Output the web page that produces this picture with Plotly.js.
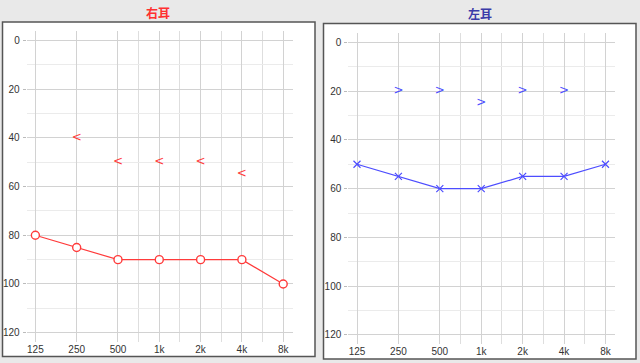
<!DOCTYPE html>
<html><head><meta charset="utf-8">
<script src="https://cdn.plot.ly/plotly-3.0.1.min.js"></script>
<style>html,body{margin:0;padding:0;background:#e9e9e9;}#c{width:640px;height:363px;}</style>
</head><body><div id="c"></div>
<script>
const freqs = ['125','250','500','1k','2k','4k','8k'];
const halfOctaves = [2.5, 3.5, 4.5, 5.5];
const rightAC = [80, 85, 90, 90, 90, 90, 100];
const rightBC = [null, 40, 50, 50, 50, 55, null];
const leftAC = [50, 55, 60, 60, 55, 55, 50];
const leftBC = [null, 20, 20, 25, 20, 20, null];
const yTicks = [0, 20, 40, 60, 80, 100, 120];

const xi = freqs.map((f, i) => i);
const red = '#ff3b3b', blue = '#4d4dff';

function bc(vals, sym) {
  const x = [], y = [], t = [];
  vals.forEach((v, i) => { if (v !== null) { x.push(i); y.push(v); t.push(sym); } });
  return {x, y, t};
}
const rb = bc(rightBC, '<'), lb = bc(leftBC, '>');

const traces = [
  {x: xi, y: rightAC, mode: 'lines+markers', xaxis: 'x', yaxis: 'y',
   line: {color: red, width: 1.2},
   marker: {symbol: 'circle', size: 8, color: '#ffffff', line: {width: 1.4, color: red}}},
  {x: rb.x, y: rb.y, text: rb.t, mode: 'text', xaxis: 'x', yaxis: 'y',
   textfont: {color: red, size: 12, family: 'DejaVu Sans'}},
  {x: xi, y: leftAC, mode: 'lines+markers', xaxis: 'x2', yaxis: 'y2',
   line: {color: blue, width: 1.2},
   marker: {symbol: 'x-thin-open', size: 7, color: blue, line: {width: 1.2, color: blue}}},
  {x: lb.x, y: lb.y, text: lb.t, mode: 'text', xaxis: 'x2', yaxis: 'y2',
   textfont: {color: blue, size: 12, family: 'DejaVu Sans'}}
];

function xax(dom, anchor) {
  return {domain: dom, anchor: anchor, range: [-0.21, 6.23], tickvals: xi, ticktext: freqs,
    showgrid: true, gridcolor: '#d2d2d2', gridwidth: 1, zeroline: false, showline: false,
    ticks: '', ticklabelstandoff: 0,
    tickfont: {family: 'Liberation Sans, Arial', size: 10, color: '#333'},
    minor: {tickvals: halfOctaves, showgrid: true, gridcolor: '#dedede', gridwidth: 1}, fixedrange: true};
}
function yax(dom, anchor) {
  return {domain: dom, anchor: anchor, range: [123.7, -3.9], tickvals: yTicks,
    showgrid: true, gridcolor: '#d2d2d2', gridwidth: 1, zeroline: false, showline: false,
    ticks: 'outside', ticklen: 3, tickcolor: '#bbbbbb', ticklabelstandoff: 1,
    tickfont: {family: 'Liberation Sans, Arial', size: 10, color: '#333'},
    minor: {dtick: 10, showgrid: true, gridcolor: '#ebebeb', gridwidth: 1}, fixedrange: true};
}

const W = 640, H = 363;
const px = v => v / W, py = v => 1 - v / H;

const layout = {
  width: W, height: H, margin: {l: 0, r: 0, t: 0, b: 0},
  paper_bgcolor: '#e9e9e9', plot_bgcolor: 'rgba(0,0,0,0)', showlegend: false,
  xaxis: xax([px(26.7), px(292.7)], 'y'),
  yaxis: yax([py(341.7), py(31)], 'x'),
  xaxis2: xax([px(348.3), px(615)], 'y2'),
  yaxis2: yax([py(344), py(32.8)], 'x2'),
  shapes: [
    {type: 'rect', xref: 'paper', yref: 'paper', x0: px(2.5), x1: px(315), y0: py(356.5), y1: py(22),
     fillcolor: '#ffffff', line: {color: '#555555', width: 1.5}, layer: 'below'},
    {type: 'rect', xref: 'paper', yref: 'paper', x0: px(323.5), x1: px(636), y0: py(359), y1: py(23.5),
     fillcolor: '#ffffff', line: {color: '#555555', width: 1.5}, layer: 'below'}
  ],
  annotations: [
    {text: '<b>右耳</b>', xref: 'paper', yref: 'paper', x: px(158), y: py(12), showarrow: false,
     xanchor: 'center', yanchor: 'middle', font: {family: 'Noto Sans CJK SC', size: 12, color: '#ff3030'}},
    {text: '<b>左耳</b>', xref: 'paper', yref: 'paper', x: px(480), y: py(14), showarrow: false,
     xanchor: 'center', yanchor: 'middle', font: {family: 'Noto Sans CJK SC', size: 12, color: '#3a3aa8'}}
  ]
};

Plotly.newPlot('c', traces, layout, {staticPlot: true, displayModeBar: false});
</script>
</body></html>
